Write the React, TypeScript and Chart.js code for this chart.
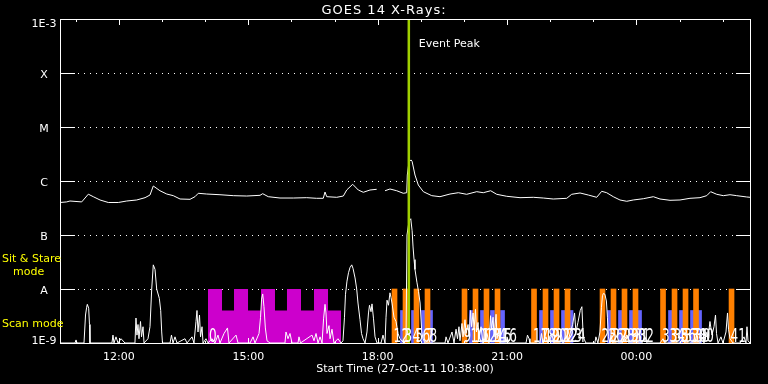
import { useEffect, useRef } from 'react';
import { Chart, registerables } from 'chart.js';

Chart.register(...registerables);

// ---------- text ----------
const TITLE = 'GOES 14 X-Rays:';
const X_TITLE = 'Start Time (27-Oct-11 10:38:00)';
const EVENT_LABEL = 'Event Peak';

// ---------- axes (x in minutes after 27-Oct-11 10:38:00) ----------
const X_MIN = 0;
const X_MAX = 960;
const hourTicks = [22, 82, 142, 202, 262, 322, 382, 442, 502, 562, 622, 682, 742, 802, 862, 922];
const majorTicks = [82, 262, 442, 622, 802];
const majorTickLabels = ['12:00', '15:00', '18:00', '21:00', '00:00'];
const yTickValues = [1e-9, 1e-8, 1e-7, 1e-6, 1e-5, 1e-4, 1e-3];
const yTickLabels = ['1E-9', 'A', 'B', 'C', 'M', 'X', '1E-3'];

// ---------- GOES long channel (1-8 A) ----------
const longTimes = [
  0, 9.3, 13.9, 30.2, 39.4, 46.3, 55.7, 67.2, 81.1, 92.8, 106.7, 118.3, 125.2, 129.8, 139.1, 148.5,
  157.6, 167.0, 180.9, 187.8, 192.4, 204.1, 222.6, 241.1, 259.8, 278.3, 282.0, 289.8, 306.1, 324.6,
  343.2, 357.1, 366.3, 368.7, 371.1, 385.0, 394.2, 398.9, 407.2, 415.0, 422.0, 431.3, 440.6, 446,
  452.2, 459.1, 468.5, 477.6, 482.4, 483.2, 485.6, 488.5, 489.9, 493.9, 498.5, 505.5, 517.2, 528.7,
  542.6, 554.2, 565.8, 579.8, 588.9, 599.2, 607.6, 621.5, 640.0, 658.5, 672.4, 686.3, 705.0, 711.9,
  723.5, 735.0, 746.7, 753.7, 760.6, 769.8, 779.1, 788.5, 797.6, 811.6, 825.5, 834.8, 848.7, 862.6,
  876.5, 890.4, 899.8, 905.3, 913.7, 922.9, 932.2, 941.5, 955.4, 960,
];
const longFlux = [
  4.0e-7, 4.1e-7, 4.26e-7, 4.1e-7, 5.7e-7, 5.12e-7, 4.45e-7, 4.0e-7, 4.0e-7, 4.26e-7, 4.45e-7, 4.91e-7,
  5.5e-7, 8.08e-7, 6.6e-7, 5.74e-7, 5.35e-7, 4.64e-7, 4.58e-7, 5.12e-7, 5.92e-7, 5.74e-7, 5.57e-7,
  5.35e-7, 5.27e-7, 5.43e-7, 5.82e-7, 5.12e-7, 4.84e-7, 4.84e-7, 4.91e-7, 4.78e-7, 4.78e-7, 6.25e-7,
  5.12e-7, 4.99e-7, 5.27e-7, 6.81e-7, 8.69e-7, 6.81e-7, 6.18e-7, 6.81e-7, 7.02e-7, null, 6.6e-7,
  7.11e-7, 6.6e-7, 5.92e-7, 6.07e-7, 1.29e-6, 2.3e-6, 2.45e-6, 2.3e-6, 1.29e-6, 8.43e-7, 6.34e-7,
  5.35e-7, 5.12e-7, 5.74e-7, 6.07e-7, 5.67e-7, 6.34e-7, 6.07e-7, 6.6e-7, 5.67e-7, 5.21e-7, 4.91e-7,
  4.99e-7, 4.84e-7, 4.64e-7, 4.78e-7, 5.67e-7, 6.0e-7, 5.5e-7, 4.99e-7, 6.44e-7, 6.07e-7, 5.12e-7,
  4.45e-7, 4.21e-7, 4.45e-7, 4.7e-7, 5.12e-7, 4.64e-7, 4.39e-7, 4.45e-7, 4.78e-7, 4.91e-7, 5.35e-7,
  6.34e-7, 5.67e-7, 5.35e-7, 5.57e-7, 5.35e-7, 5.06e-7, 4.99e-7,
];

// ---------- GOES short channel (0.5-4 A) ----------
const shortTimes = [
  0, 20.9, 22.3, 23.7, 33.4, 35.5, 37.1, 38.0, 39.9, 41.0, 41.7, 72.3, 73.7, 75.1, 77.9, 80.7, 84.9, 90.4,
  104.3, 105.7, 107.1, 108.5, 109.9, 112.0, 113.4, 115.5, 116.9, 122.4, 125.2, 127.6, 129.8, 132.2,
  134.5, 138.2, 140.1, 141.5, 142.6, 153.1, 155.1, 157.2, 160.0, 162.8, 173.9, 176.7, 183.7, 186.4,
  189.2, 190.6, 192.0, 194.1, 195.5, 197.6, 199.0, 203.1, 205.9, 211.4, 215.6, 219.8, 222.6, 228.2,
  233.0, 235.1, 244.9, 247.7, 264.4, 268.6, 271.3, 276.9, 279.0, 280.4, 282.0, 283.8, 285.7, 288.0,
  292.2, 313.0, 314.4, 317.2, 320.0, 322.8, 331.1, 332.5, 334.6, 350.6, 353.4, 356.2, 359.0, 361.8,
  364.6, 366.7, 368.7, 370.1, 371.5, 374.3, 375.7, 378.4, 381.2, 386.8, 391.0, 393.7, 395.8, 397.2,
  399.3, 401.4, 403.5, 405.9, 407.7, 410.5, 412.8, 414.6, 417.4, 419.5, 421.6, 424.4, 427.1, 429.2,
  430.6, 432.7, 434.1, 436.2, 438.3, 441.1, 446.6, 449.4, 452.2, 453.6, 455.0, 457.0, 459.1, 460.5,
  461.9, 464.7, 467.5, 470.3, 473.0, 478.6, 481.4, 482.8, 485.6, 488.0, 489.9, 491.2, 492.6, 493.9,
  496.7, 498.8, 501.0, 503.3, 505.1, 507.9, 535.7, 537.1, 539.8, 545.4, 548.2, 551.0, 553.0, 555.1,
  556.5, 559.3, 560.7, 563.5, 564.9, 567.7, 569.1, 571.2, 572.6, 574.7, 576.1, 578.1, 579.5, 581.6,
  583.0, 585.8, 588.5, 594.1, 596.9, 599.0, 600.4, 602.5, 603.9, 606.7, 608.0, 610.8, 612.2, 620.6,
  622.0, 624.7, 648.4, 650.4, 652.6, 653.9, 667.8, 669.9, 672.0, 676.2, 679.0, 684.5, 687.3, 695.7,
  697.1, 699.8, 704.0, 706.8, 713.2, 715.9, 717.8, 720.6, 723.8, 726.1, 727.5, 728.9, 731.7, 744.2,
  745.6, 748.4, 751.2, 753.3, 754.7, 756.1, 758.1, 760.2, 761.6, 763.0, 765.1, 766.5, 769.3, 781.8,
  788.8, 791.5, 809.6, 813.8, 816.6, 834.8, 839.0, 841.7, 862.6, 866.7, 869.6, 890.4, 893.2, 896.0,
  898.7, 901.5, 904.3, 907.1, 909.9, 912.0, 913.4, 915.5, 919.6, 922.4, 926.6, 928.7, 930.1, 932.2,
  936.3, 946.1, 951.7, 954.4, 955.8, 957.2, 960,
];
const shortFlux = [
  1e-9, 1e-9, 1.14e-9, 1e-9, 1e-9, 3.3e-9, 4.6e-9, 5.2e-9, 4.4e-9, 2.2e-9, 1e-9, 1e-9, 1.4e-9, 1e-9,
  1.3e-9, 1e-9, 1.2e-9, 1e-9, 1e-9, 2.9e-9, 1.4e-9, 2.2e-9, 1.2e-9, 2.5e-9, 1.3e-9, 2.0e-9, 1e-9,
  1.2e-9, 2.0e-9, 1.0e-8, 2.8e-8, 2.3e-8, 1.0e-8, 6.7e-9, 4.0e-9, 1.6e-9, 1e-9, 1e-9, 1.4e-9, 1e-9,
  1.3e-9, 1e-9, 1.2e-9, 1e-9, 1.3e-9, 1e-9, 2.5e-9, 4.0e-9, 1.6e-9, 3.3e-9, 1.3e-9, 2.0e-9, 1e-9,
  1.2e-9, 1e-9, 1.2e-9, 1e-9, 1.4e-9, 1e-9, 1.5e-9, 1.9e-9, 1e-9, 1.4e-9, 1e-9, 1e-9, 1.3e-9, 1e-9,
  1.5e-9, 3.0e-9, 6.5e-9, 8.1e-9, 4.7e-9, 1.9e-9, 1.1e-9, 1e-9, 1e-9, 1.6e-9, 1.2e-9, 1.5e-9, 1e-9,
  1e-9, 1.3e-9, 1e-9, 1.4e-9, 1.1e-9, 1.5e-9, 1e-9, 1.3e-9, 1e-9, 2.8e-9, 5.2e-9, 3.6e-9, 1.5e-9,
  2.1e-9, 1.2e-9, 1.8e-9, 1e-9, 1.2e-9, 1e-9, 1.1e-9, 3.0e-9, 8.0e-9, 1.4e-8, 2.0e-8, 2.5e-8, 2.8e-8,
  2.4e-8, 1.6e-8, 1.0e-8, 5.5e-9, 2.7e-9, 1.5e-9, 1.2e-9, 1e-9, 1.6e-9, 3.6e-9, 5.0e-9, 3.8e-9,
  5.3e-9, 2.8e-9, 1.3e-9, 1e-9, 1e-9, 1.4e-9, 1e-9, 3.0e-9, 6.2e-9, 5.0e-9, 8.5e-9, 7.0e-9, 5.5e-9,
  3.0e-9, 2.5e-9, 1.5e-9, 1.2e-9, 1e-9, 1.1e-9, 1.0e-7, 1.8e-7, 2.0e-7, 1.2e-7, 6.0e-8, 3.5e-8,
  2.3e-8, 1.3e-8, 9.0e-9, 5.5e-9, 1.6e-9, 1.2e-9, 1e-9, 1e-9, 1.3e-9, 1e-9, 1.6e-9, 1e-9, 1.8e-9,
  1.2e-9, 2.0e-9, 1.1e-9, 2.3e-9, 1.3e-9, 2.7e-9, 1.5e-9, 2.2e-9, 1.3e-9, 4.0e-9, 2.0e-9, 3.6e-9,
  1.8e-9, 4.2e-9, 1.6e-9, 2.4e-9, 1.2e-9, 2.0e-9, 1e-9, 1.5e-9, 1e-9, 3.2e-9, 1.8e-9, 3.0e-9, 1.3e-9,
  3.4e-9, 1.2e-9, 1.8e-9, 1e-9, 1e-9, 1.3e-9, 1e-9, 1e-9, 1.4e-9, 1.2e-9, 1e-9, 1e-9, 1.5e-9, 1e-9,
  1.3e-9, 1e-9, 1.4e-9, 1e-9, 1e-9, 1.5e-9, 1e-9, 1.3e-9, 1.1e-9, 2.2e-9, 3.6e-9, 1.6e-9, 2.4e-9,
  4.0e-9, 4.7e-9, 1.8e-9, 1.2e-9, 1e-9, 1e-9, 1.3e-9, 1e-9, 1.6e-9, 4.5e-9, 7.5e-9, 8.3e-9, 8.0e-9,
  6.0e-9, 3.0e-9, 1.3e-9, 1e-9, 1.4e-9, 1e-9, 1e-9, 1.4e-9, 1e-9, 1e-9, 1.3e-9, 1e-9, 1e-9, 1.2e-9,
  1e-9, 1e-9, 1.2e-9, 1e-9, 1e-9, 1.3e-9, 1e-9, 1.6e-9, 1.2e-9, 2.5e-9, 1.4e-9, 2.0e-9, 3.3e-9,
  1.5e-9, 1e-9, 1.3e-9, 1e-9, 1.6e-9, 3.6e-9, 1.8e-9, 1.2e-9, 1e-9, 1e-9, 1.3e-9, 1e-9, 2.0e-9,
  1.1e-9, 1e-9,
];

// ---------- observing modes ----------
const sitStareTimes = [205.9, 225.4, 242.1, 261.6, 279.7, 299.1, 315.8, 335.3, 353.4, 372.9, 391.0];
const sitStareLevels = [1e-8, 4e-9, 1e-8, 4e-9, 1e-8, 4e-9, 1e-8, 4e-9, 1e-8, 4e-9, 4e-9];
const rasterTimes = [
  465.4, 480.7, 496.0, 511.3, 562.8, 578.1, 593.4, 608.7, 659.5, 675.5, 690.8, 706.1,
  754.8, 770.1, 785.4, 800.7, 839.0, 855.0, 870.3, 884.9, 934.3,
];
const rasterRange = [1e-9, 1e-8];
const scanTimes = [
  476.5, 491.8, 505.7, 515.5, 572.5, 587.8, 601.7, 615.7, 669.9, 685.2, 700.5, 711.0,
  764.5, 779.8, 795.1, 806.3, 849.4, 864.7, 880.0, 889.8,
];
const scanRange = [1e-9, 4e-9];
const eventPeakTime = 485.3;

// ---------- styles ----------
const FONT = "11px 'DejaVu Sans', sans-serif";
const WHITE = '#ffffff';
const YELLOW = '#ffff00';
const GREEN = '#a0d000';
const MAGENTA = '#cc00cc';
const ORANGE = '#ff8000';
const BLUE = '#6464ff';

const overlay = {
  id: 'goesOverlay',
  beforeDraw(chart: any) {
    const { ctx, width, height } = chart;
    ctx.save();
    ctx.fillStyle = '#000';
    ctx.fillRect(0, 0, width, height);
    ctx.restore();
  },
  beforeDatasetsDraw(chart: any) {
    const { ctx, chartArea: a, scales } = chart;
    ctx.save();
    ctx.fillStyle = WHITE;
    for (const v of yTickValues.slice(1, -1)) {
      const py = Math.round(scales.y.getPixelForValue(v));
      for (let px = a.left + 18; px < a.right - 14; px += 6) ctx.fillRect(px, py, 1, 1);
    }
    ctx.restore();
  },
  afterDatasetsDraw(chart: any) {
    const { ctx, chartArea: a, scales, width } = chart;
    const xs = scales.x;
    const ys = scales.y;
    ctx.save();

    // event peak line
    const ex = xs.getPixelForValue(eventPeakTime);
    ctx.fillStyle = GREEN;
    ctx.fillRect(ex - 1.25, a.top, 2.5, a.bottom - a.top);

    ctx.font = FONT;
    ctx.fillStyle = WHITE;
    ctx.textAlign = 'left';
    ctx.textBaseline = 'alphabetic';
    ctx.fillText(EVENT_LABEL, ex + 10, a.top + 28);

    // observation numbers
    const events = [
      { t: sitStareTimes[0], dx: 1 },
      ...rasterTimes.map((t) => ({ t, dx: -1 })),
      ...scanTimes.map((t) => ({ t, dx: -1 })),
    ];
    const first = events[0];
    const rest = events.slice(1).sort((p, q) => p.t - q.t);
    const ordered = [first, ...rest];
    ctx.font = "12px 'DejaVu Sans', sans-serif";
    ordered.forEach((ev, i) => {
      const px = xs.getPixelForValue(ev.t) + ev.dx;
      ctx.save();
      ctx.translate(px, a.bottom - 1);
      ctx.scale(1, 1.55);
      ctx.fillText(String(i), 0, 0);
      ctx.restore();
    });

    // frame
    ctx.fillStyle = WHITE;
    const w = a.right - a.left + 1;
    const h = a.bottom - a.top + 1;
    ctx.fillRect(a.left, a.top, w, 1);
    ctx.fillRect(a.left, a.bottom, w, 1);
    ctx.fillRect(a.left, a.top, 1, h);
    ctx.fillRect(a.right, a.top, 1, h);

    // y ticks (both sides)
    for (const v of yTickValues) {
      const py = Math.round(ys.getPixelForValue(v));
      ctx.fillRect(a.left, py, 15, 1);
      ctx.fillRect(a.right - 14, py, 15, 1);
    }
    // x ticks (top and bottom)
    for (const t of hourTicks) {
      const px = Math.round(xs.getPixelForValue(t));
      const len = majorTicks.includes(t) ? 6 : 3;
      ctx.fillRect(px, a.top, 1, len);
      ctx.fillRect(px, a.bottom - len + 1, 1, len);
    }

    // labels
    ctx.font = FONT;
    ctx.textAlign = 'center';
    yTickValues.forEach((v, i) => {
      const py = ys.getPixelForValue(v);
      const dy = i === 0 ? 1 : i === yTickValues.length - 1 ? 8 : 5;
      ctx.fillText(yTickLabels[i], 44, py + dy);
    });
    majorTicks.forEach((t, i) => {
      ctx.fillText(majorTickLabels[i], xs.getPixelForValue(t), a.bottom + 17);
    });
    ctx.fillText(X_TITLE, (a.left + a.right) / 2, a.bottom + 29);

    ctx.font = "13px 'DejaVu Sans', sans-serif";
    (ctx as any).letterSpacing = '1px';
    ctx.fillText(TITLE, width / 2, 14);
    (ctx as any).letterSpacing = '0px';

    // mode labels
    ctx.font = FONT;
    ctx.textAlign = 'left';
    ctx.fillStyle = YELLOW;
    ctx.fillText('Sit & Stare', 2, 262);
    ctx.fillText('mode', 13, 275);
    ctx.fillText('Scan mode', 2, 327);

    ctx.restore();
  },
};

export default function App() {
  const ref = useRef<HTMLCanvasElement>(null);
  useEffect(() => {
    document.body.style.margin = '0';
    document.body.style.background = '#000';
    const canvas = ref.current!;
    const chart = new Chart(canvas, {
      type: 'line',
      data: {
        datasets: [
          {
            label: 'GOES long',
            data: longTimes.map((t, i) => ({ x: t, y: longFlux[i] })) as any,
            borderColor: WHITE,
            borderWidth: 1,
            pointRadius: 0,
            spanGaps: false,
            order: 0,
          },
          {
            label: 'GOES short',
            data: shortTimes.map((t, i) => ({ x: t, y: shortFlux[i] })) as any,
            borderColor: WHITE,
            borderWidth: 1,
            pointRadius: 0,
            order: 0,
          },
          {
            type: 'bar',
            label: 'Raster',
            data: rasterTimes.map((t) => ({ x: t, y: rasterRange })) as any,
            backgroundColor: ORANGE,
            borderWidth: 0,
            barThickness: 5,
            grouped: false,
            order: 1,
          } as any,
          {
            type: 'bar',
            label: 'Scan',
            data: scanTimes.map((t) => ({ x: t, y: scanRange })) as any,
            backgroundColor: BLUE,
            borderWidth: 0,
            barThickness: 4,
            grouped: false,
            order: 2,
          } as any,
          {
            label: 'Sit & Stare',
            data: sitStareTimes.map((t, i) => ({ x: t, y: sitStareLevels[i] })) as any,
            stepped: 'before',
            borderColor: MAGENTA,
            backgroundColor: MAGENTA,
            borderWidth: 0,
            pointRadius: 0,
            fill: 'start',
            order: 3,
          },
        ],
      },
      options: {
        responsive: false,
        animation: false,
        devicePixelRatio: 1,
        events: [],
        layout: { padding: { left: 60, right: 18, top: 19, bottom: 41 } },
        plugins: {
          legend: { display: false },
          tooltip: { enabled: false },
          title: { display: false },
        },
        scales: {
          x: { type: 'linear', min: X_MIN, max: X_MAX, offset: false, display: false },
          y: { type: 'logarithmic', min: 1e-9, max: 1e-3, display: false },
        },
      },
      plugins: [overlay],
    });
    return () => chart.destroy();
  }, []);
  return (
    <div style={{ width: 768, height: 384, background: '#000' }}>
      <canvas ref={ref} width={768} height={384} style={{ display: 'block' }} />
    </div>
  );
}
